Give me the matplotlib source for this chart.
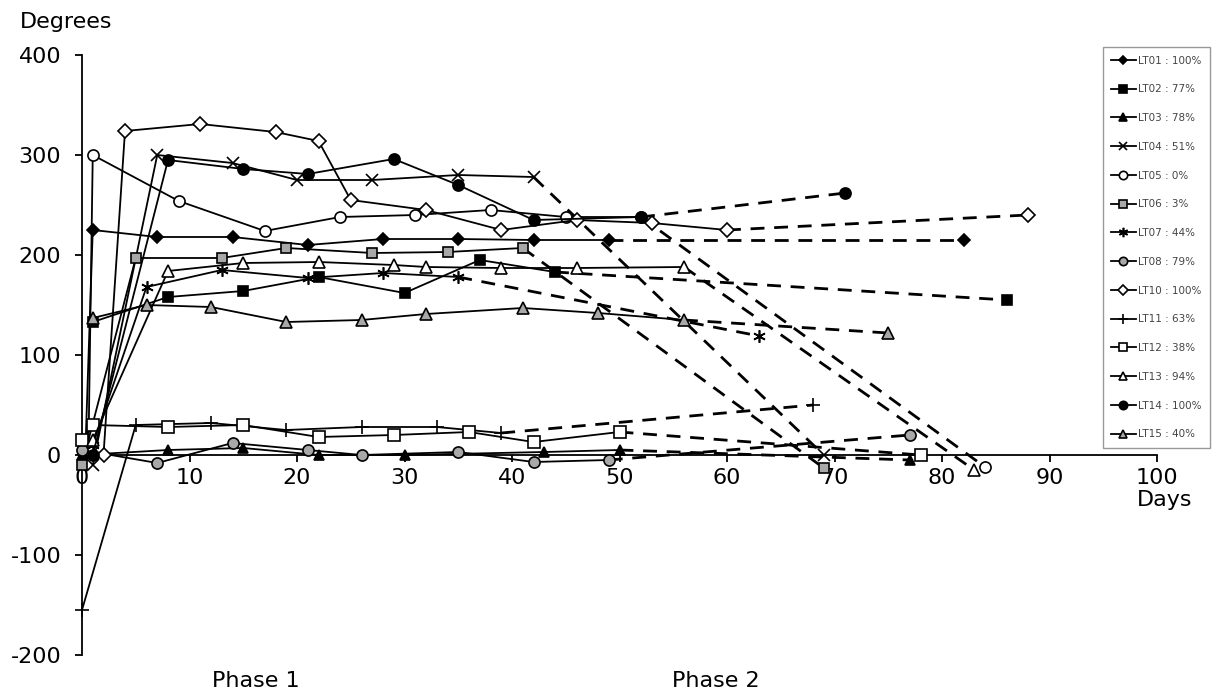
import matplotlib.pyplot as plt

# days / degrees; phase 1 is solid, the *_end point is phase 2 (dashed)
lt01_d = [0.3, 1, 7, 14, 21, 28, 35, 42, 49]
lt01_v = [0, 225, 218, 218, 210, 216, 216, 215, 215]
lt01_end = (82, 215)

lt02_d = [1, 8, 15, 22, 30, 37, 44]
lt02_v = [133, 158, 164, 178, 162, 195, 183]
lt02_end = (86, 155)

lt03_d = [0, 8, 15, 22, 30, 43, 50]
lt03_v = [0, 5, 7, 0, 0, 3, 5]
lt03_end = (77, -5)

lt04_d = [1, 7, 14, 20, 27, 35, 42]
lt04_v = [-10, 300, 292, 275, 275, 280, 278]
lt04_end = (69, 0)

lt05_d = [0.6, 1, 9, 17, 24, 31, 38, 45, 52]
lt05_v = [5, 300, 254, 224, 238, 240, 245, 238, 238]
lt05_end = (84, -12)

lt06_d = [0, 5, 13, 19, 27, 34, 41]
lt06_v = [-10, 197, 197, 207, 202, 203, 207]
lt06_end = (69, -13)

lt07_d = [1, 6, 13, 21, 28, 35]
lt07_v = [10, 168, 185, 177, 182, 178]
lt07_end = (63, 119)

lt08_d = [0, 7, 14, 21, 26, 35, 42, 49]
lt08_v = [5, -8, 12, 5, 0, 3, -7, -5]
lt08_end = (77, 20)

lt10_d = [2, 4, 11, 18, 22, 25, 32, 39, 46, 53, 60]
lt10_v = [0, 324, 331, 323, 314, 255, 245, 225, 235, 232, 225]
lt10_end = (88, 240)

lt11_d = [0, 5, 12, 19, 26, 33, 39]
lt11_v = [-155, 30, 32, 25, 28, 28, 22]
lt11_end = (68, 50)

lt12_d = [0, 1, 8, 15, 22, 29, 36, 42, 50]
lt12_v = [15, 30, 28, 30, 18, 20, 23, 13, 23]
lt12_end = (78, 0)

lt13_d = [1, 8, 15, 22, 29, 32, 39, 46, 56]
lt13_v = [15, 184, 192, 193, 190, 188, 187, 187, 188]
lt13_end = (83, -15)

lt14_d = [1, 8, 15, 21, 29, 35, 42, 52]
lt14_v = [0, 295, 286, 281, 296, 270, 235, 238]
lt14_end = (71, 262)

lt15_d = [1, 6, 12, 19, 26, 32, 41, 48, 56]
lt15_v = [137, 150, 148, 133, 135, 141, 147, 142, 135]
lt15_end = (75, 122)

labels = ['LT01 : 100%', 'LT02 : 77%', 'LT03 : 78%', 'LT04 : 51%', 'LT05 : 0%',
          'LT06 : 3%', 'LT07 : 44%', 'LT08 : 79%', 'LT10 : 100%', 'LT11 : 63%',
          'LT12 : 38%', 'LT13 : 94%', 'LT14 : 100%', 'LT15 : 40%']

series = [(lt01_d, lt01_v, lt01_end), (lt02_d, lt02_v, lt02_end), (lt03_d, lt03_v, lt03_end),
          (lt04_d, lt04_v, lt04_end), (lt05_d, lt05_v, lt05_end), (lt06_d, lt06_v, lt06_end),
          (lt07_d, lt07_v, lt07_end), (lt08_d, lt08_v, lt08_end), (lt10_d, lt10_v, lt10_end),
          (lt11_d, lt11_v, lt11_end), (lt12_d, lt12_v, lt12_end), (lt13_d, lt13_v, lt13_end),
          (lt14_d, lt14_v, lt14_end), (lt15_d, lt15_v, lt15_end)]

grey = '#a8a8a8'
# marker, face colour, size
styles = [('D', 'black', 6), ('s', 'black', 7), ('^', 'black', 7), ('x', 'black', 8),
          ('o', 'white', 8), ('s', grey, 7.5), ((6, 2, 0), 'black', 9), ('o', grey, 8),
          ('D', 'white', 7), ('+', 'black', 10), ('s', 'white', 8), ('^', 'white', 8),
          ('o', 'black', 8), ('^', grey, 8)]

plt.rcParams['font.family'] = 'DejaVu Sans'
plt.rcParams['axes.unicode_minus'] = False
fig = plt.figure(figsize=(12.18, 6.95), dpi=100)
ax = fig.add_axes([82 / 1218, 40 / 695, 1075 / 1218, 600 / 695])

handles = []
for (d, v, end), (mk, fc, ms), lab in zip(series, styles, labels):
    ax.plot([d[-1], end[0]], [v[-1], end[1]], color='black', lw=2, dashes=(5, 3.5),
            clip_on=False, zorder=2)
    ax.plot([end[0]], [end[1]], marker=mk, ms=ms, mfc=fc, mec='black', mew=1.2,
            ls='none', clip_on=False, zorder=3)
    h, = ax.plot(d, v, color='black', lw=1.3, marker=mk, ms=ms, mfc=fc, mec='black',
                 mew=1.2, clip_on=False, zorder=3, label=lab)
    handles.append(h)

ax.set_xlim(0, 100)
ax.set_ylim(-200, 400)
ax.set_xticks(range(0, 101, 10))
ax.set_yticks(range(-200, 401, 100))
ax.spines['top'].set_visible(False)
ax.spines['right'].set_visible(False)
ax.spines['bottom'].set_position(('data', 0))
ax.spines['left'].set_linewidth(1.3)
ax.spines['bottom'].set_linewidth(1.3)
ax.tick_params(axis='y', direction='out', length=5, width=1.3, pad=10, labelsize=16)
ax.tick_params(axis='x', direction='out', length=5, width=1.3, pad=4, labelsize=16)

fig.text(20 / 1218, 1 - 22 / 695, 'Degrees', fontsize=16, va='center', ha='left')
fig.text(1165 / 1218, 1 - 500 / 695, 'Days', fontsize=16, va='center', ha='center')
fig.text(212 / 1218, 1 - 681 / 695, 'Phase 1', fontsize=16, va='center', ha='left')
fig.text(672 / 1218, 1 - 681 / 695, 'Phase 2', fontsize=16, va='center', ha='left')

leg = fig.legend(handles=handles, loc='upper right', bbox_to_anchor=(1215 / 1218, 1 - 42 / 695),
                 fontsize=7.5, labelspacing=1.8, handlelength=2.4, handletextpad=0.2,
                 markerscale=0.75, fancybox=False, edgecolor='#999999', borderpad=0.8,
                 framealpha=1)
for t in leg.get_texts():
    t.set_color('#444444')

fig.savefig('out.png', dpi=100)
